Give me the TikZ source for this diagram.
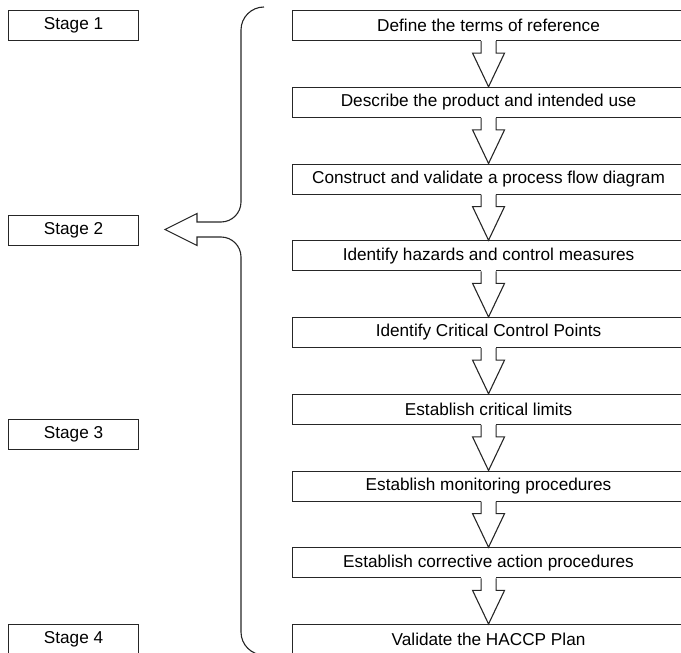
\documentclass[tikz,border=0pt]{standalone}
\usepackage{fontspec}
\setmainfont{Liberation Sans}
\usetikzlibrary{calc}
\definecolor{ink}{HTML}{262626}
\tikzset{
  every picture/.style={line join=miter},
  boxline/.style={draw=ink, line width=1.1pt},
  stagebox/.style={boxline, rectangle, anchor=north west, minimum width=130pt,
    minimum height=30pt, inner sep=0pt, font=\fontsize{17.2}{20}\selectfont},
  stepbox/.style={boxline, rectangle, anchor=north west, minimum width=392pt,
    minimum height=30pt, inner sep=0pt, font=\fontsize{17.2}{20}\selectfont},
  blk/.style={draw=ink, line width=1.1pt},
}
% hollow block arrow from the bottom of one box to the top of the next
\newcommand\flowarrow[2]{%
  \fill[white] ($(#1.south)+(-7.5,-1)$) rectangle ($(#1.south)+(7.5,12)$);
  \draw[blk] ($(#1.south)+(-7.5,0)$) -- ($(#1.south)+(-7.5,12)$)
    -- ($(#1.south)+(-16,12)$) -- (#2.north)
    -- ($(#1.south)+(16,12)$) -- ($(#1.south)+(7.5,12)$)
    -- ($(#1.south)+(7.5,0)$);}
\begin{document}
\begin{tikzpicture}[x=1pt, y=-1pt]
\useasboundingbox (0,0) rectangle (681,653);

% stage labels
\node[stagebox] (s1) at (8,10)    {Stage 1};
\node[stagebox] (s2) at (8,214.5) {Stage 2};
\node[stagebox] (s3) at (8,419)   {Stage 3};
\node[stagebox] (s4) at (8,624)   {Stage 4};

% HACCP steps
\node[stepbox] (b1) at (292,10)     {Define the terms of reference};
\node[stepbox] (b2) at (292,86.75)  {Describe the product and intended use};
\node[stepbox] (b3) at (292,163.5)  {Construct and validate a process flow diagram};
\node[stepbox] (b4) at (292,240.25) {Identify hazards and control measures};
\node[stepbox] (b5) at (292,317)    {Identify Critical Control Points};
\node[stepbox] (b6) at (292,393.75) {Establish critical limits};
\node[stepbox] (b7) at (292,470.5)  {Establish monitoring procedures};
\node[stepbox] (b8) at (292,547.25) {Establish corrective action procedures};
\node[stepbox] (b9) at (292,624)    {Validate the HACCP Plan};

\flowarrow{b1}{b2}
\flowarrow{b2}{b3}
\flowarrow{b3}{b4}
\flowarrow{b4}{b5}
\flowarrow{b5}{b6}
\flowarrow{b6}{b7}
\flowarrow{b7}{b8}
\flowarrow{b8}{b9}

% brace spanning the steps, with its arrow pointing at Stage 2
\coordinate (tip) at (165,229.5);
\draw[blk] (264,7) .. controls (251.3,7) and (241,17.3) .. (241,30)
  -- (241,202) .. controls (241,213) and (232,222) .. (221,222)
  -- (197,222) -- (197,213.5) -- (tip) -- (197,245.5) -- (197,237)
  -- (221,237) .. controls (232,237) and (241,246) .. (241,257)
  -- (241,632) .. controls (241,644.7) and (251.3,655) .. (264,655);
\end{tikzpicture}
\end{document}
